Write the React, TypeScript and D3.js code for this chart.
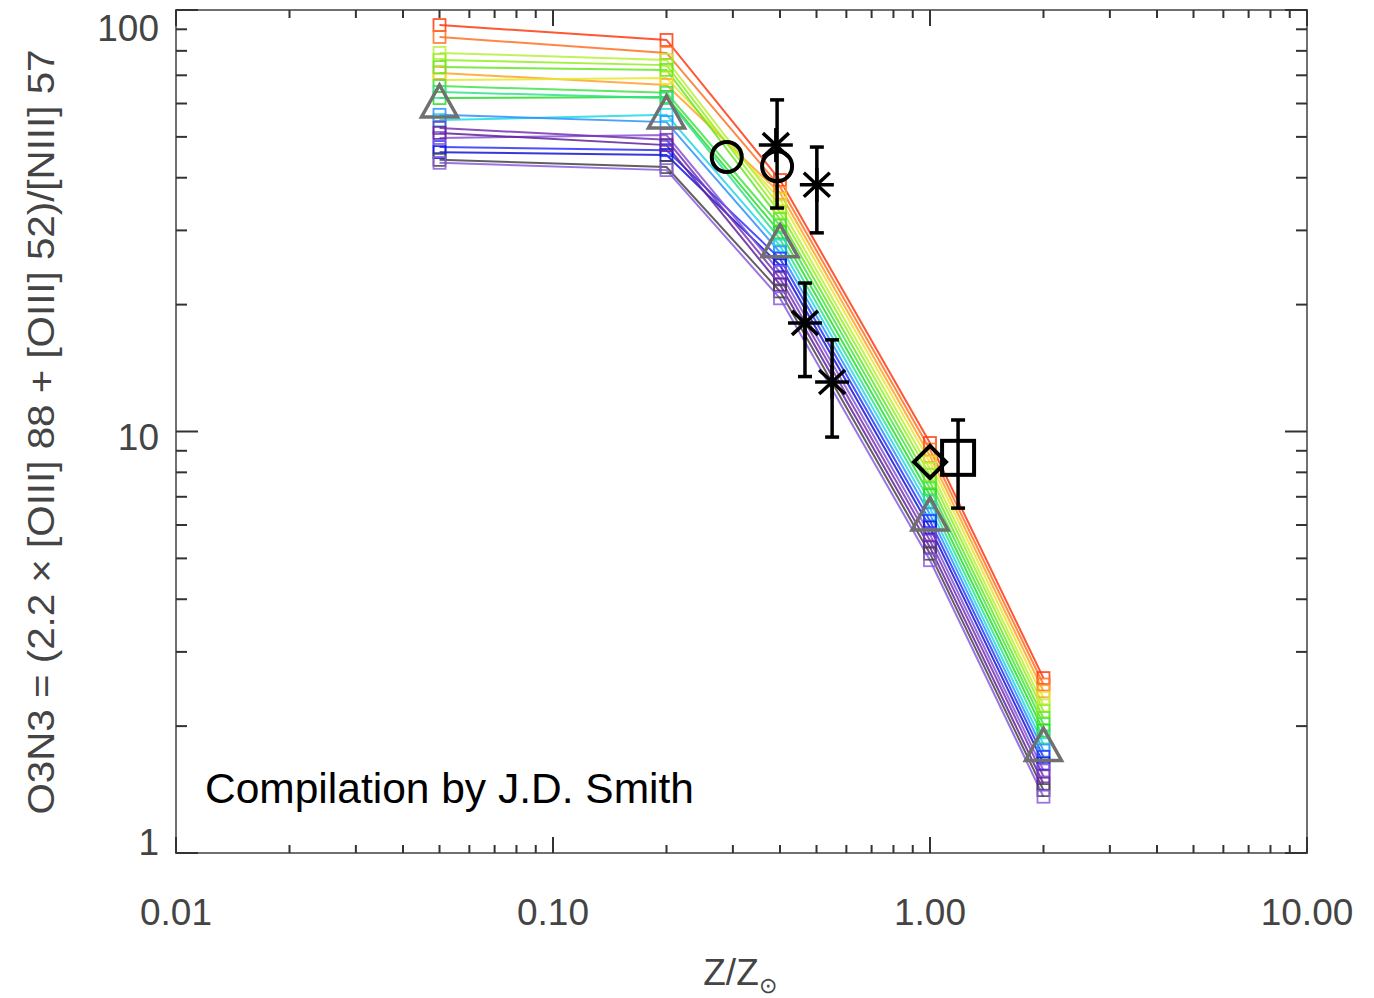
import React from 'react';
import * as d3 from 'd3';

// Model metallicity grid (Z/Zsun)
const zGrid = [0.05, 0.2, 0.4, 1.0, 2.0];

// Model line colours
const modelColors = [
  '#ff3a10', '#ff7224', '#ffa228', '#e6e62a', '#b8ee3c', '#94ee22', '#66e626',
  '#44e44a', '#26de26', '#30e08e', '#22d6e6', '#2a92ff', '#2a34ff', '#1414d4',
  '#8454d4', '#7434b4', '#60229c', '#444444', '#8a5ae0',
];

// O3N3 values for each model track at zGrid
const modelValues = [
  [92.1, 84.9, 39.5, 9.39, 2.60],
  [86.3, 79.1, 38.1, 9.06, 2.51],
  [70.9, 66.4, 36.8, 8.75, 2.42],
  [68.2, 69.0, 35.6, 8.46, 2.33],
  [79.1, 76.1, 34.2, 8.15, 2.24],
  [76.1, 74.0, 33.1, 7.88, 2.17],
  [73.2, 72.1, 31.9, 7.59, 2.09],
  [66.0, 63.6, 30.8, 7.33, 2.02],
  [61.8, 62.2, 29.7, 7.06, 1.95],
  [63.9, 61.8, 28.6, 6.82, 1.88],
  [54.8, 56.4, 27.6, 6.58, 1.81],
  [56.4, 54.2, 26.6, 6.36, 1.75],
  [47.3, 46.5, 25.7, 6.13, 1.69],
  [46.0, 45.3, 24.8, 5.92, 1.63],
  [49.7, 50.5, 23.9, 5.70, 1.57],
  [52.5, 49.2, 23.1, 5.51, 1.52],
  [51.1, 47.8, 22.3, 5.31, 1.46],
  [44.1, 42.4, 21.5, 5.13, 1.41],
  [43.4, 41.7, 20.7, 4.95, 1.36],
];

// Gray triangle track
const triangleValues = [60.5, 57.0, 28.2, 6.34, 1.80];

// Observations
const circleObs = [
  { z: 0.289, v: 44.8 },
  { z: 0.393, v: 42.6, lo: 33.9, hi: 61.2 },
];
const asteriskObs = [
  { z: 0.390, v: 47.8 },
  { z: 0.501, v: 38.5, lo: 29.6, hi: 47.3 },
  { z: 0.466, v: 18.1, lo: 13.5, hi: 22.5 },
  { z: 0.550, v: 13.1, lo: 9.7, hi: 16.5 },
];
const diamondObs = [{ z: 1.0, v: 8.47 }];
const squareObs = [{ z: 1.187, v: 8.66, lo: 6.58, hi: 10.65 }];

const xTicks = [0.01, 0.1, 1, 10];
const xTickLabels = ['0.01', '0.10', '1.00', '10.00'];
const yTicks = [1, 10, 100];
const yTickLabels = ['1', '10', '100'];

const annotation = 'Compilation by J.D. Smith';
const yTitle = 'O3N3 = (2.2 × [OIII] 88 + [OIII] 52)/[NIII] 57';

const W = 1374;
const H = 998;
const L = 176, R = 1307, T = 10, B = 853;

export default function App() {
  const x = d3.scaleLog().domain([0.01, 10]).range([L, R]);
  const y = d3.scaleLog().domain([1, 100]).range([B, T]);
  const line = d3.line<number>().x((_, i) => x(zGrid[i])).y((d) => y(d));

  const minorX: number[] = [];
  for (const dec of [0.01, 0.1, 1]) for (let k = 2; k <= 9; k++) minorX.push(dec * k);
  const minorY: number[] = [];
  for (const dec of [1, 10]) for (let k = 2; k <= 9; k++) minorY.push(dec * k);

  const font = 'Liberation Sans, Arial, Helvetica, sans-serif';
  const tickCol = '#333';

  const errBar = (cx: number, lo: number, hi: number, key: string) => (
    <g key={key} stroke="#000" strokeWidth={3.5}>
      <line x1={cx} x2={cx} y1={y(lo)} y2={y(hi)} />
      <line x1={cx - 7} x2={cx + 7} y1={y(lo)} y2={y(lo)} />
      <line x1={cx - 7} x2={cx + 7} y1={y(hi)} y2={y(hi)} />
    </g>
  );

  const triPath = (cx: number, cy: number) => {
    const hw = 18, ht = 17;
    return `M${cx},${cy - ht}L${cx + hw},${cy + ht - 2}L${cx - hw},${cy + ht - 2}Z`;
  };

  return (
    <svg width={W} height={H} style={{ position: 'absolute', left: 0, top: 0, display: 'block', background: '#fff' }}>
      {/* model lines */}
      <g fill="none" strokeWidth={2} strokeOpacity={0.85}>
        {modelValues.map((vals, i) => (
          <path key={i} d={line(vals) || ''} stroke={modelColors[i]} />
        ))}
      </g>
      {/* model square markers */}
      <g fill="none" strokeWidth={1.8} strokeOpacity={0.85}>
        {modelValues.map((vals, i) =>
          vals.map((v, j) => (
            <rect key={`${i}-${j}`} x={x(zGrid[j]) - 6} y={y(v) - 6} width={12} height={12} stroke={modelColors[i]} />
          ))
        )}
      </g>
      {/* gray triangles */}
      <g fill="none" stroke="#707070" strokeWidth={3.5} strokeLinejoin="miter">
        {triangleValues.map((v, j) => (
          <path key={j} d={triPath(x(zGrid[j]), y(v))} />
        ))}
      </g>
      {/* observations */}
      <g fill="none" stroke="#000" strokeWidth={4}>
        {circleObs.map((o, i) => (
          <g key={`c${i}`}>
            {o.lo !== undefined && errBar(x(o.z), o.lo, o.hi!, `ce${i}`)}
            <circle cx={x(o.z)} cy={y(o.v)} r={15} />
          </g>
        ))}
        {asteriskObs.map((o, i) => {
          const cx = x(o.z), cy = y(o.v);
          return (
            <g key={`a${i}`}>
              {o.lo !== undefined && errBar(cx, o.lo, o.hi!, `ae${i}`)}
              <g strokeWidth={3.5}>
                <line x1={cx - 17} x2={cx + 17} y1={cy} y2={cy} />
                <line x1={cx} x2={cx} y1={cy - 17} y2={cy + 17} />
                <line x1={cx - 13} x2={cx + 13} y1={cy - 12} y2={cy + 12} />
                <line x1={cx - 13} x2={cx + 13} y1={cy + 12} y2={cy - 12} />
              </g>
            </g>
          );
        })}
        {diamondObs.map((o, i) => {
          const cx = x(o.z), cy = y(o.v);
          return <path key={`d${i}`} d={`M${cx},${cy - 16}L${cx + 16},${cy}L${cx},${cy + 16}L${cx - 16},${cy}Z`} />;
        })}
        {squareObs.map((o, i) => {
          const cx = x(o.z), cy = y(o.v);
          return (
            <g key={`s${i}`}>
              {errBar(cx, o.lo, o.hi, `se${i}`)}
              <rect x={cx - 16} y={cy - 17} width={32} height={34} />
            </g>
          );
        })}
      </g>

      {/* frame */}
      <rect x={L} y={T} width={R - L} height={B - T} fill="none" stroke="#707070" strokeWidth={2} />
      {/* ticks */}
      <g stroke={tickCol} strokeWidth={2}>
        {xTicks.map((t, i) => (
          <g key={`xt${i}`}>
            <line x1={x(t)} x2={x(t)} y1={B} y2={B - 16} />
            <line x1={x(t)} x2={x(t)} y1={T} y2={T + 16} />
          </g>
        ))}
        {minorX.map((t, i) => (
          <g key={`xm${i}`}>
            <line x1={x(t)} x2={x(t)} y1={B} y2={B - 8} />
            <line x1={x(t)} x2={x(t)} y1={T} y2={T + 8} />
          </g>
        ))}
        {yTicks.map((t, i) => (
          <g key={`yt${i}`}>
            <line x1={L} x2={L + 22} y1={y(t)} y2={y(t)} />
            <line x1={R} x2={R - 22} y1={y(t)} y2={y(t)} />
          </g>
        ))}
        {minorY.map((t, i) => (
          <g key={`ym${i}`}>
            <line x1={L} x2={L + 11} y1={y(t)} y2={y(t)} />
            <line x1={R} x2={R - 11} y1={y(t)} y2={y(t)} />
          </g>
        ))}
      </g>

      {/* tick labels */}
      <g fontFamily={font} fontSize={37} fill="#444">
        {xTicks.map((t, i) => (
          <text key={`xl${i}`} x={x(t)} y={925} textAnchor="middle">{xTickLabels[i]}</text>
        ))}
        {yTicks.map((t, i) => (
          <text key={`yl${i}`} x={159} y={Math.min(Math.max(y(t) + 5, 28), 842) + 13} textAnchor="end">{yTickLabels[i]}</text>
        ))}
      </g>

      {/* axis titles */}
      <text x={740} y={985} textAnchor="middle" fontFamily={font} fontSize={37} fill="#444">
        Z/Z<tspan fontSize={22} dy={8}>⊙</tspan>
      </text>
      <text transform="translate(54,432) rotate(-90)" textAnchor="middle" fontFamily={font} fontSize={36}
        fill="#444" textLength={765} lengthAdjust="spacingAndGlyphs">
        {yTitle}
      </text>

      {/* annotation */}
      <text x={205} y={803} fontFamily={font} fontSize={42.5} fill="#000">{annotation}</text>
    </svg>
  );
}
